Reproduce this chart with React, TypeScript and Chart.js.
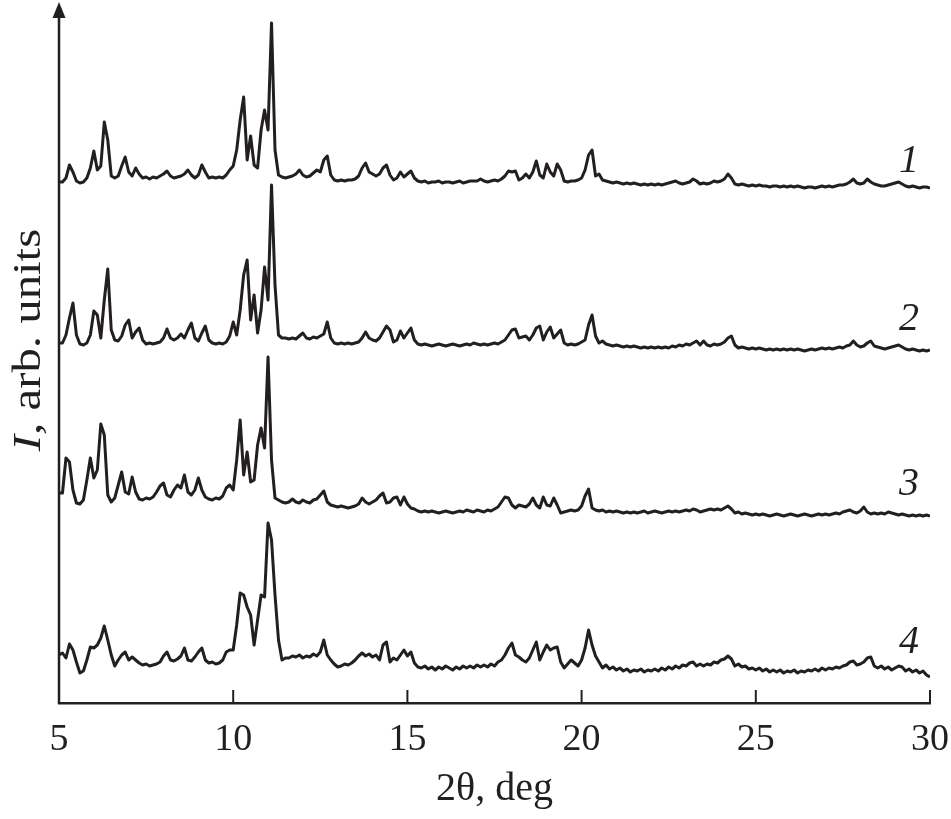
import React, { useEffect, useRef } from 'react';
import { Chart, registerables } from 'chart.js';

Chart.register(...registerables);

const INK = '#231f20';
const SERIF = '"Liberation Serif", "Times New Roman", serif';

// 2θ positions of the readings (deg)
const twoTheta = [
  5.0, 5.1, 5.2, 5.3, 5.4, 5.5, 5.6, 5.7, 5.8, 5.9,
  6.0, 6.1, 6.2, 6.3, 6.4, 6.5, 6.6, 6.7, 6.8, 6.9,
  7.0, 7.1, 7.2, 7.3, 7.4, 7.5, 7.6, 7.7, 7.8, 7.9,
  8.0, 8.1, 8.2, 8.3, 8.4, 8.5, 8.6, 8.7, 8.8, 8.9,
  9.0, 9.1, 9.2, 9.3, 9.4, 9.5, 9.6, 9.7, 9.8, 9.9,
  10.0, 10.1, 10.2, 10.3, 10.4, 10.5, 10.6, 10.7, 10.8, 10.9,
  11.0, 11.1, 11.2, 11.3, 11.4, 11.5, 11.6, 11.7, 11.8, 11.9,
  12.0, 12.1, 12.2, 12.3, 12.4, 12.5, 12.6, 12.7, 12.8, 12.9,
  13.0, 13.1, 13.2, 13.3, 13.4, 13.5, 13.6, 13.7, 13.8, 13.9,
  14.0, 14.1, 14.2, 14.3, 14.4, 14.5, 14.6, 14.7, 14.8, 14.9,
  15.0, 15.1, 15.2, 15.3, 15.4, 15.5, 15.6, 15.7, 15.8, 15.9,
  16.0, 16.1, 16.2, 16.3, 16.4, 16.5, 16.6, 16.7, 16.8, 16.9,
  17.0, 17.1, 17.2, 17.3, 17.4, 17.5, 17.6, 17.7, 17.8, 17.9,
  18.0, 18.1, 18.2, 18.3, 18.4, 18.5, 18.6, 18.7, 18.8, 18.9,
  19.0, 19.1, 19.2, 19.3, 19.4, 19.5, 19.6, 19.7, 19.8, 19.9,
  20.0, 20.1, 20.2, 20.3, 20.4, 20.5, 20.6, 20.7, 20.8, 20.9,
  21.0, 21.1, 21.2, 21.3, 21.4, 21.5, 21.6, 21.7, 21.8, 21.9,
  22.0, 22.1, 22.2, 22.3, 22.4, 22.5, 22.6, 22.7, 22.8, 22.9,
  23.0, 23.1, 23.2, 23.3, 23.4, 23.5, 23.6, 23.7, 23.8, 23.9,
  24.0, 24.1, 24.2, 24.3, 24.4, 24.5, 24.6, 24.7, 24.8, 24.9,
  25.0, 25.1, 25.2, 25.3, 25.4, 25.5, 25.6, 25.7, 25.8, 25.9,
  26.0, 26.1, 26.2, 26.3, 26.4, 26.5, 26.6, 26.7, 26.8, 26.9,
  27.0, 27.1, 27.2, 27.3, 27.4, 27.5, 27.6, 27.7, 27.8, 27.9,
  28.0, 28.1, 28.2, 28.3, 28.4, 28.5, 28.6, 28.7, 28.8, 28.9,
  29.0, 29.1, 29.2, 29.3, 29.4, 29.5, 29.6, 29.7, 29.8, 29.9,
  30.0,
];

// intensities above each pattern's own baseline (arb. units)
const pattern1 = [
  8, 8, 12, 25, 18, 9, 7, 8, 12, 22,
  39, 20, 24, 68, 50, 14, 12, 14, 24, 33,
  18, 14, 22, 16, 12, 13, 11, 13, 12, 14,
  16, 19, 14, 12, 13, 14, 16, 20, 15, 12,
  15, 25, 18, 12, 13, 12, 13, 12, 15, 20,
  24, 40, 70, 93, 30, 54, 25, 22, 60, 80,
  60, 167, 40, 15, 13, 12, 13, 14, 16, 20,
  15, 13, 14, 17, 20, 18, 30, 34, 15, 10,
  9, 10, 9, 10, 10, 11, 14, 22, 27, 18,
  16, 14, 16, 22, 25, 15, 10, 12, 18, 13,
  16, 19, 12, 9, 8, 9, 7, 8, 8, 9,
  7, 8, 8, 7, 8, 9, 7, 8, 9, 9,
  9, 11, 9, 8, 9, 10, 9, 11, 14, 19,
  18, 19, 10, 12, 16, 12, 18, 29, 15, 12,
  26, 18, 14, 26, 20, 9, 8, 9, 9, 10,
  12, 20, 35, 40, 14, 16, 10, 9, 8, 7,
  8, 7, 6, 7, 6, 7, 6, 5, 6, 5,
  6, 5, 6, 5, 6, 7, 8, 9, 7, 6,
  7, 8, 11, 9, 6, 7, 6, 7, 9, 8,
  9, 11, 16, 12, 6, 5, 6, 5, 4, 5,
  4, 5, 4, 4, 3, 4, 4, 3, 4, 3,
  4, 3, 4, 3, 2, 3, 3, 2, 3, 4,
  3, 4, 3, 4, 5, 5, 6, 8, 11, 7,
  6, 7, 11, 8, 6, 5, 4, 4, 5, 6,
  7, 8, 6, 4, 3, 4, 3, 2, 3, 3,
  2,
];

const pattern2 = [
  12, 12, 20, 37, 52, 20, 11, 10, 12, 20,
  44, 40, 17, 55, 86, 25, 15, 14, 19, 30,
  35, 17, 23, 27, 15, 11, 12, 11, 12, 13,
  17, 26, 17, 15, 17, 21, 17, 25, 32, 17,
  14, 22, 29, 15, 12, 11, 12, 11, 13, 19,
  33, 20, 45, 80, 95, 35, 60, 22, 45, 88,
  55, 170, 70, 20, 17, 17, 16, 17, 16, 19,
  22, 17, 16, 18, 17, 19, 21, 33, 17, 12,
  11, 12, 11, 12, 11, 12, 13, 17, 23, 17,
  15, 14, 17, 23, 29, 25, 13, 15, 24, 17,
  22, 27, 15, 11, 10, 11, 10, 9, 10, 11,
  10, 9, 10, 11, 10, 9, 10, 11, 10, 12,
  11, 10, 11, 10, 11, 12, 11, 13, 15, 20,
  25, 26, 17, 18, 19, 15, 20, 27, 29, 15,
  23, 28, 17, 21, 25, 12, 10, 11, 10, 11,
  13, 15, 30, 40, 19, 12, 14, 11, 10, 9,
  10, 9, 8, 9, 8, 9, 8, 7, 8, 7,
  8, 7, 8, 7, 8, 7, 9, 8, 10, 9,
  11, 10, 12, 14, 10, 14, 10, 9, 11, 10,
  11, 13, 17, 19, 10, 7, 8, 7, 6, 7,
  6, 7, 6, 5, 6, 5, 6, 5, 6, 5,
  6, 5, 6, 5, 4, 5, 6, 5, 6, 7,
  6, 7, 6, 7, 8, 7, 9, 10, 14, 10,
  8, 9, 12, 14, 9, 8, 7, 6, 7, 8,
  9, 10, 8, 6, 5, 6, 5, 4, 5, 4,
  5,
];

const pattern3 = [
  27, 27, 62, 58, 30, 17, 16, 20, 40, 62,
  42, 50, 96, 85, 25, 18, 22, 35, 48, 28,
  26, 43, 28, 21, 20, 22, 21, 23, 28, 34,
  37, 25, 23, 30, 35, 32, 45, 28, 25, 30,
  42, 30, 23, 21, 20, 22, 21, 24, 32, 35,
  30, 60, 100, 45, 68, 38, 40, 75, 92, 72,
  163, 60, 22, 20, 18, 17, 18, 21, 18, 17,
  20, 18, 17, 20, 21, 25, 29, 18, 15, 14,
  13, 14, 13, 12, 13, 14, 16, 22, 18, 16,
  18, 20, 24, 27, 17, 18, 22, 23, 15, 23,
  16, 12, 11, 9, 8, 9, 8, 9, 8, 7,
  8, 9, 8, 7, 8, 9, 8, 10, 9, 8,
  10, 9, 8, 10, 9, 11, 13, 18, 23, 22,
  15, 12, 15, 14, 13, 16, 22, 15, 12, 23,
  15, 14, 22, 15, 7, 8, 9, 10, 9, 10,
  14, 24, 31, 12, 10, 9, 10, 8, 9, 8,
  9, 8, 7, 8, 7, 8, 7, 8, 9, 7,
  8, 9, 8, 7, 8, 9, 8, 9, 8, 9,
  10, 9, 11, 10, 8, 9, 10, 11, 10, 11,
  10, 12, 14, 11, 7, 8, 6, 7, 6, 5,
  6, 5, 6, 5, 4, 5, 6, 5, 4, 5,
  6, 5, 4, 5, 6, 5, 4, 5, 6, 5,
  6, 5, 6, 7, 6, 8, 9, 10, 8, 7,
  9, 13, 8, 6, 7, 6, 7, 6, 8, 7,
  6, 5, 6, 5, 4, 5, 4, 5, 4, 5,
  4,
];

const pattern4 = [
  30, 32, 27, 41, 35, 23, 12, 14, 25, 38,
  37, 40, 47, 59, 45, 30, 19, 25, 30, 33,
  25, 28, 25, 22, 20, 21, 19, 20, 21, 23,
  29, 33, 25, 24, 26, 29, 37, 25, 24, 28,
  33, 37, 25, 22, 23, 21, 22, 25, 33, 35,
  35, 60, 92, 90, 78, 70, 40, 65, 90, 88,
  162, 145, 90, 45, 25, 27, 27, 29, 28, 30,
  27, 29, 28, 31, 29, 33, 45, 30, 25, 21,
  18, 19, 21, 20, 22, 25, 29, 32, 29, 31,
  28, 30, 25, 40, 43, 23, 27, 25, 30, 35,
  29, 33, 22, 18, 17, 19, 16, 18, 15, 18,
  16, 19, 17, 15, 18, 16, 19, 17, 19, 17,
  20, 18, 20, 18, 21, 19, 23, 25, 30, 37,
  42, 30, 28, 25, 23, 27, 35, 43, 25, 33,
  40, 35, 37, 38, 23, 17, 21, 25, 22, 19,
  25, 37, 55, 40, 29, 23, 17, 20, 16, 18,
  15, 17, 14, 16, 13, 15, 14, 16, 13, 15,
  14, 16, 14, 17, 15, 18, 16, 19, 17, 20,
  19, 22, 23, 19, 21, 19, 21, 20, 23, 22,
  25, 26, 29, 26, 19, 21, 18, 19, 16, 17,
  15, 17, 14, 16, 13, 15, 13, 15, 12, 14,
  13, 15, 12, 14, 13, 15, 14, 16, 14, 17,
  15, 17, 16, 18, 17, 19, 20, 23, 24, 20,
  21, 23, 27, 28, 19, 17, 19, 16, 18, 15,
  17, 19, 18, 14, 16, 13, 15, 12, 14, 10,
  8,
];

const patterns = [pattern1, pattern2, pattern3, pattern4];
// vertical offsets used to stack the patterns
const patternOffsets = [513, 348, 183, 18];
const patternLabels = ['1', '2', '3', '4'];
const labelTwoTheta = 29.4;
const labelHeights = [18, 25, 25, 32];

const xMin = 5;
const xMax = 30;
const xStep = 5;
const yMax = 701;

const decorPlugin = {
  id: 'xrdDecor',
  afterDraw(chart: any) {
    const { ctx, chartArea, scales } = chart;
    const xs = scales.x;
    const ys = scales.y;
    ctx.save();
    ctx.strokeStyle = INK;
    ctx.fillStyle = INK;

    // y axis with arrow head
    ctx.lineWidth = 2.5;
    ctx.beginPath();
    ctx.moveTo(chartArea.left, chartArea.bottom + 1);
    ctx.lineTo(chartArea.left, chartArea.top + 12);
    ctx.stroke();
    ctx.beginPath();
    ctx.moveTo(chartArea.left, chartArea.top);
    ctx.lineTo(chartArea.left - 6.5, chartArea.top + 16);
    ctx.lineTo(chartArea.left + 6.5, chartArea.top + 16);
    ctx.closePath();
    ctx.fill();

    // tick marks pointing into the plot
    ctx.lineWidth = 2;
    xs.ticks.forEach((t: any) => {
      const px = xs.getPixelForValue(t.value);
      ctx.beginPath();
      ctx.moveTo(px, chartArea.bottom);
      ctx.lineTo(px, chartArea.bottom - 13);
      ctx.stroke();
    });

    // curve numbers
    ctx.font = `italic 40px ${SERIF}`;
    ctx.textAlign = 'center';
    ctx.textBaseline = 'alphabetic';
    patternLabels.forEach((lab, i) => {
      ctx.fillText(
        lab,
        xs.getPixelForValue(labelTwoTheta),
        ys.getPixelForValue(patternOffsets[i] + labelHeights[i])
      );
    });

    // y axis title: italic I, then upright rest
    ctx.translate(40, 340);
    ctx.rotate(-Math.PI / 2);
    ctx.scale(1.22, 1);
    const italicFont = `italic 40px ${SERIF}`;
    const plainFont = `40px ${SERIF}`;
    ctx.font = italicFont;
    const wI = ctx.measureText('I').width;
    ctx.font = plainFont;
    const rest = ', arb. units';
    const wRest = ctx.measureText(rest).width;
    const start = -(wI + wRest) / 2;
    ctx.textAlign = 'left';
    ctx.font = italicFont;
    ctx.fillText('I', start, 0);
    ctx.font = plainFont;
    ctx.fillText(rest, start + wI, 0);

    ctx.restore();
  },
};

const XrdPatternsChart: React.FC = () => {
  const chartRef = useRef<HTMLCanvasElement>(null);
  const chartInstanceRef = useRef<Chart | null>(null);

  useEffect(() => {
    document.body.style.margin = '0';
    if (!chartRef.current) return;
    const ctx = chartRef.current.getContext('2d');
    if (!ctx) return;

    chartInstanceRef.current = new Chart(ctx, {
      type: 'line',
      data: {
        datasets: patterns.map((p, i) => ({
          label: patternLabels[i],
          data: p.map((v, j) => ({ x: twoTheta[j], y: v + patternOffsets[i] })),
          borderColor: INK,
          borderWidth: 3,
          borderJoinStyle: 'round',
          pointRadius: 0,
          tension: 0,
          fill: false,
        })),
      },
      options: {
        responsive: false,
        animation: false,
        layout: { padding: { left: 59, right: 21, top: 2, bottom: 0 } },
        plugins: {
          legend: { display: false },
          tooltip: { enabled: false },
        },
        scales: {
          x: {
            type: 'linear',
            min: xMin,
            max: xMax,
            afterFit: (scale: any) => {
              // fixed axis band; the outer labels fit inside the layout padding
              scale.height = 116;
              scale.paddingLeft = 0;
              scale.paddingRight = 0;
            },
            ticks: {
              stepSize: xStep,
              color: INK,
              padding: 18,
              maxRotation: 0,
              font: { family: SERIF, size: 38, lineHeight: 1 },
            },
            grid: { drawOnChartArea: false, drawTicks: false },
            border: { display: true, color: INK, width: 2.5 },
            title: {
              display: true,
              text: '2θ, deg',
              color: INK,
              font: { family: SERIF, size: 40, lineHeight: 1 },
              padding: { top: 0, bottom: 9.5 },
            },
          },
          y: {
            type: 'linear',
            display: false,
            min: 0,
            max: yMax,
          },
        },
      },
      plugins: [decorPlugin],
    } as any);

    return () => {
      if (chartInstanceRef.current) {
        chartInstanceRef.current.destroy();
        chartInstanceRef.current = null;
      }
    };
  }, []);

  return (
    <div style={{ width: 951, height: 819, background: '#fff' }}>
      <canvas ref={chartRef} width={951} height={819} aria-label="XRD patterns" />
    </div>
  );
};

export default function App() {
  return <XrdPatternsChart />;
}
